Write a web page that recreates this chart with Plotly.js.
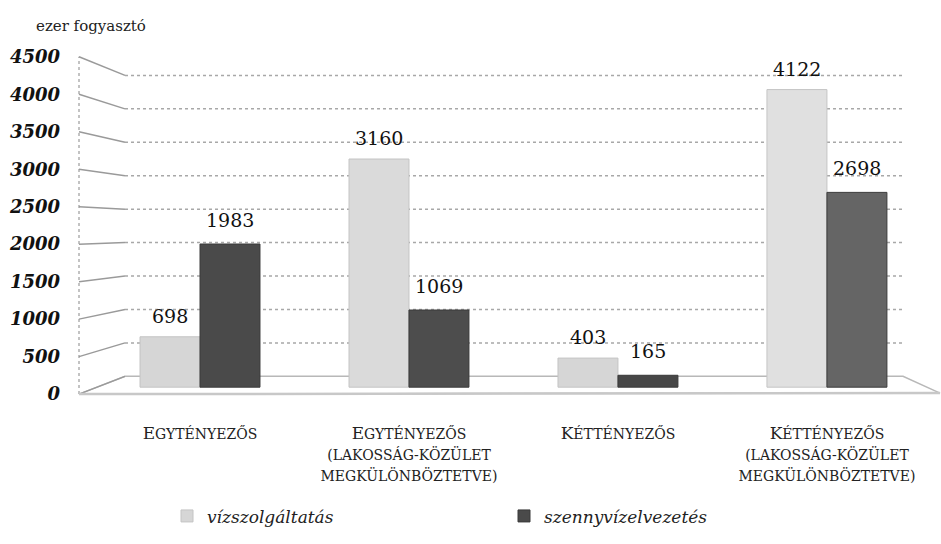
<!DOCTYPE html>
<html><head><meta charset="utf-8">
<script src="https://cdn.plot.ly/plotly-3.0.1.min.js"></script>
<style>html,body{margin:0;padding:0;background:#fff}</style>
</head><body><div id="chart" style="width:941px;height:544px"></div>
<script>
// ---- data ----
const categories = ['Egytényezős', 'Egytényezős (lakosság-közület megkülönböztetve)', 'Kéttényezős', 'Kéttényezős (lakosság-közület megkülönböztetve)'];
const categoryLines = [['Egytényezős'], ['Egytényezős', '(lakosság-közület', 'megkülönböztetve)'], ['Kéttényezős'], ['Kéttényezős', '(lakosság-közület', 'megkülönböztetve)']];
const vizszolgaltatas = [698, 3160, 403, 4122];
const szennyvizelvezetes = [1983, 1069, 165, 2698];
const seriesNames = ['vízszolgáltatás', 'szennyvízelvezetés'];
const yTicks = [0, 500, 1000, 1500, 2000, 2500, 3000, 3500, 4000, 4500];
const yUnitLabel = 'ezer fogyasztó';

// ---- geometry (pixels) ----
const L = 79, R = 10, T = 40, B = 139, W = 941, H = 544;
const plotW = W - L - R, plotH = H - T - B, plotBottom = H - B;
const px = p => (p - L) / plotW;
const py = p => (plotBottom - p) / plotH;
const barZero = 392, barK = 0.0732;
const frontZero = 399, frontK = 0.076;
const backZero = 381, backK = 0.0678;
const frontY = v => frontZero - v * frontK;
const backY = v => backZero - v * backK;
const backL = 125, backR = 903, frontR = 940;
const SERIF = 'DejaVu Serif';

function smallCaps(lines) {
  return lines.map((ln, i) => {
    const up = ln.toUpperCase();
    if (i === 0) return '<span style="font-size:17px">' + up[0] + '</span><span style="font-size:14px">' + up.slice(1) + '</span>';
    return '<span style="font-size:14px">' + up + '</span>';
  }).join('<br>');
}

const lightCols = ['#d6d6d6', '#dadada', '#d6d6d6', '#e0e0e0'];
const darkCols = ['#4a4a4a', '#4d4d4d', '#474747', '#656565'];
const traces = [
  {type: 'bar', name: seriesNames[0], x: categories, y: vizszolgaltatas, marker: {color: lightCols, line: {color: '#c4c4c4', width: 1}}, hoverinfo: 'skip'},
  {type: 'bar', name: seriesNames[1], x: categories, y: szennyvizelvezetes, marker: {color: darkCols, line: {color: '#3a3a3a', width: 1}}, hoverinfo: 'skip'},
  {type: 'scatter', x: [], y: [], yaxis: 'y2', showlegend: false, hoverinfo: 'skip'}
];

const shapes = [];
shapes.push({type: 'path', xref: 'paper', yref: 'paper', layer: 'below',
  path: `M ${px(backL)} ${py(backY(0))} L ${px(backR)} ${py(backY(0))} L ${px(frontR)} ${py(frontY(0) - 1)} L ${px(L)} ${py(frontY(0))} Z`,
  fillcolor: '#ffffff', line: {color: '#b8b8b8', width: 1.5}});
shapes.push({type: 'line', xref: 'paper', yref: 'paper', layer: 'below', x0: px(L), x1: px(L), y0: py(frontY(0)), y1: py(frontY(yTicks[yTicks.length - 1])), line: {color: '#b0b0b0', width: 1.5, dash: 'dot'}});
yTicks.forEach(v => {
  if (v > 0) shapes.push({type: 'line', xref: 'paper', yref: 'paper', layer: 'below', x0: px(backL), x1: px(backR), y0: py(backY(v)), y1: py(backY(v)), line: {color: '#a8a8a8', width: 1.5, dash: 'dot'}});
  shapes.push({type: 'line', xref: 'paper', yref: 'paper', layer: 'below', x0: px(L), x1: px(backL), y0: py(frontY(v)), y1: py(backY(v)), line: {color: '#9a9a9a', width: 1.5}});
});
shapes.push({type: 'line', xref: 'paper', yref: 'paper', layer: 'below', x0: px(L), x1: px(frontR), y0: py(frontY(0)), y1: py(frontY(0) - 1), line: {color: '#c8c8c8', width: 2.5}});

const valFont = {family: SERIF, size: 19, color: '#111'};
const annotations = [];
categories.forEach((c, i) => {
  annotations.push({x: c, y: vizszolgaltatas[i], xref: 'x', yref: 'y', text: String(vizszolgaltatas[i]), showarrow: false, xshift: -30, yshift: 21, yanchor: 'middle', font: valFont});
  annotations.push({x: c, y: szennyvizelvezetes[i], xref: 'x', yref: 'y', text: String(szennyvizelvezetes[i]), showarrow: false, xshift: 30, yshift: 24, yanchor: 'middle', font: valFont});
});
annotations.push({xref: 'paper', yref: 'paper', x: px(34), y: py(26), xanchor: 'left', yanchor: 'middle', text: yUnitLabel, showarrow: false, font: {family: SERIF, size: 15, color: '#222'}});

const layout = {
  width: W, height: H,
  font: {family: SERIF, color: '#222'},
  margin: {l: L, r: R, t: T, b: B},
  paper_bgcolor: '#fff', plot_bgcolor: 'rgba(0,0,0,0)',
  barmode: 'group', bargap: 0.426, bargroupgap: 0,
  showlegend: true,
  legend: {orientation: 'h', x: px(167), y: py(523), xanchor: 'left', yanchor: 'middle', entrywidth: 292, entrywidthmode: 'pixels',
    font: {family: SERIF, size: 17, style: 'italic', color: '#222'}, traceorder: 'normal'},
  xaxis: {type: 'category', range: [-0.579, 3.498], tickvals: categories, ticktext: categoryLines.map(smallCaps),
    tickfont: {family: SERIF, size: 16, color: '#222'}, ticks: 'outside', ticklen: 19, tickcolor: 'rgba(0,0,0,0)',
    showgrid: false, zeroline: false, showline: false, fixedrange: true},
  yaxis: {range: [(barZero - plotBottom) / barK, (barZero - T) / barK], showgrid: false, zeroline: false, showline: false, showticklabels: false, fixedrange: true},
  yaxis2: {overlaying: 'y', side: 'left', range: [(frontZero - plotBottom) / frontK, (frontZero - T) / frontK], tickvals: yTicks, ticktext: yTicks.map(String),
    tickfont: {family: SERIF, size: 18, weight: 'bold', style: 'italic', color: '#111'}, ticklabelstandoff: 18,
    showgrid: false, zeroline: false, showline: false, ticks: '', fixedrange: true},
  shapes: shapes, annotations: annotations
};
Plotly.newPlot('chart', traces, layout, {displayModeBar: false, staticPlot: true});
</script></body></html>
